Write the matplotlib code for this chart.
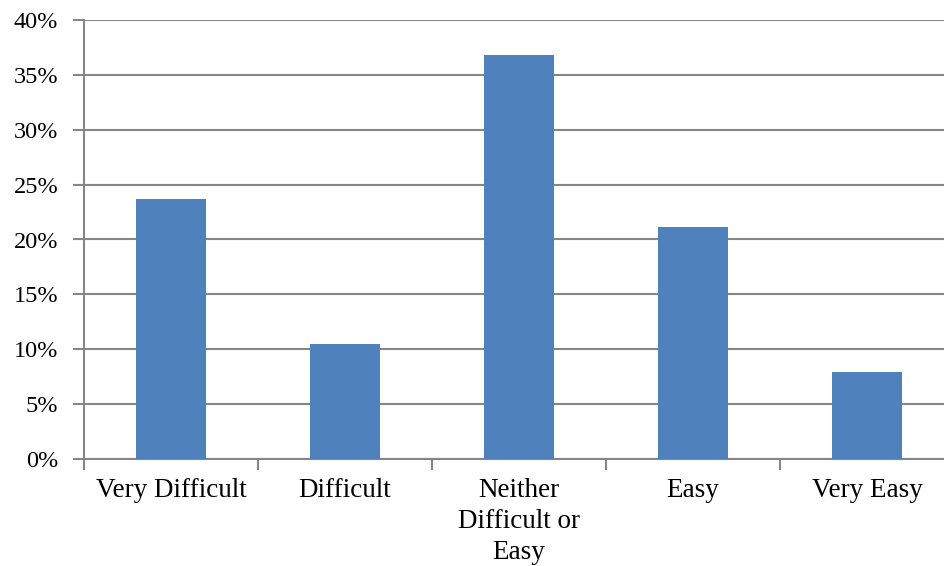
import matplotlib.pyplot as plt
from matplotlib.ticker import PercentFormatter

categories = ['Very Difficult', 'Difficult', 'Neither\nDifficult or\nEasy', 'Easy', 'Very Easy']
shares = [23.7, 10.5, 36.8, 21.1, 7.9]

plt.rcParams['font.family'] = ['Liberation Serif', 'DejaVu Serif']

fig = plt.figure(figsize=(9.45, 5.66), dpi=100)
# plot area runs a little past the right edge of the figure
ax = fig.add_axes([84/945, 1-459/566, 870/945, 439/566])

x = range(len(categories))
ax.bar(x, shares, width=0.4, color='#4F81BD', zorder=3)

ax.set_xlim(-0.5, len(categories)-0.5)
ax.set_ylim(0, 40)
ax.set_yticks(range(0, 41, 5))
ax.yaxis.set_major_formatter(PercentFormatter(decimals=0))
ax.set_xticks([i+0.5 for i in range(-1, len(categories))], minor=False)
ax.set_xticklabels([])
ax.set_xticks(list(x), minor=True)
ax.set_xticklabels(categories, minor=True, fontsize=19.5, va='top', linespacing=1.3)
ax.tick_params(axis='x', which='minor', length=0, pad=14)
ax.tick_params(axis='x', which='major', length=8, color='#868686', width=1.5)
ax.tick_params(axis='y', length=8, color='#868686', width=1.5, labelsize=17.5, pad=10.5)

ax.grid(axis='y', color='#868686', linewidth=1.5, zorder=0)
for side in ['top', 'right']:
    ax.spines[side].set_visible(False)
for side in ['left', 'bottom']:
    ax.spines[side].set_color('#868686')
    ax.spines[side].set_linewidth(1.5)

fig.savefig('out.png', dpi=100)
